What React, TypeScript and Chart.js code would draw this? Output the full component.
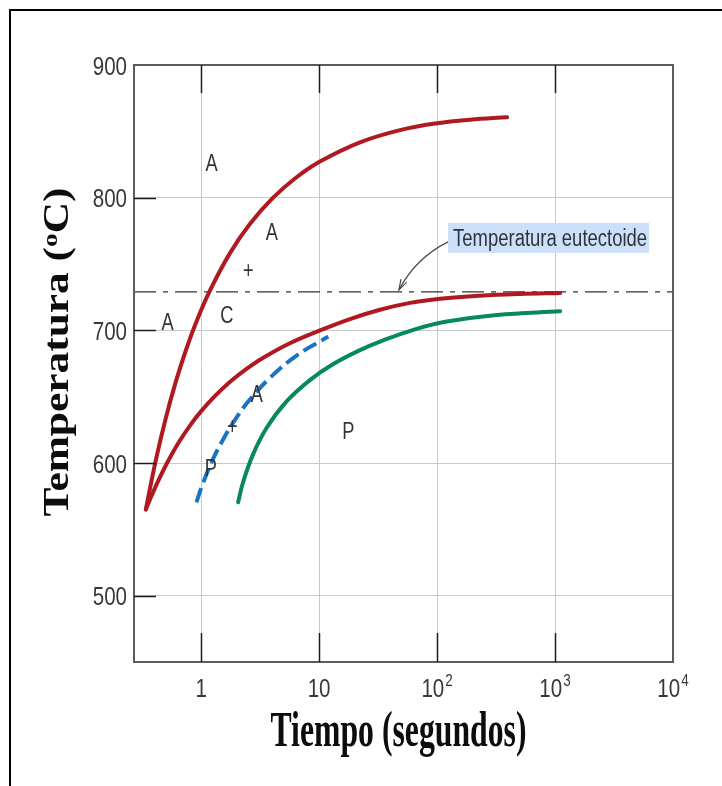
import React, { useEffect, useRef } from "react";
import { Chart, registerables } from "chart.js";

Chart.register(...registerables);

// Axis ticks
const timeTicks = [1, 10, 100, 1000, 10000];
const timeTickBase = ["1", "10", "10", "10", "10"];
const timeTickExp = ["", "", "2", "3", "4"];
const tempTicks = [500, 600, 700, 800, 900];
const tempTickLabels = ["500", "600", "700", "800", "900"];

// Start of transformation (upper red curve)
const startTime = [0.34, 0.413, 0.502, 0.61, 0.742, 0.902, 1.185, 1.752, 2.59, 4.058, 6.363, 10.17, 22.22, 48.55, 100, 190.5, 392.6];
const startTemp = [565, 602, 633.8, 661.1, 684.8, 705.4, 729.7, 758, 780.1, 799.8, 815, 827.2, 841.7, 850.9, 856.1, 858.8, 860.6];

// End of transformation (lower red curve)
const finishTime = [0.34, 0.413, 0.502, 0.634, 0.802, 0.994, 1.307, 1.752, 2.395, 3.339, 5.656, 10.17, 18.27, 32.84, 59, 106.1, 231.7, 506.1, 1106];
const finishTemp = [565, 582.6, 598.1, 614.3, 628, 638.7, 650.4, 661.1, 670.6, 679.2, 690.3, 699.9, 708.5, 715.5, 720.7, 723.8, 726.1, 727.4, 728.1];

// Dashed blue curve
const halfTime = [0.914, 1.008, 1.23, 1.53, 1.97, 2.59, 3.83, 6.45, 11.96];
const halfTemp = [570.4, 581.7, 600.8, 617.4, 633.5, 647.8, 664.1, 681, 695.3];

// Green curve
const greenTime = [2.06, 2.272, 2.762, 3.589, 5.303, 8.362, 13.19, 22.22, 32.84, 62.93, 120.9, 321.1, 1106];
const greenTemp = [570.4, 585.7, 606.7, 626.4, 646.4, 662.5, 674.6, 685.1, 691.5, 700.4, 706.6, 711.6, 714.4];

// Eutectoid line
const eutectoidTemp = 729;
const eutectoidSpan = [0.27, 10000];
const eutectoidLabel = "Temperatura eutectoide";
const eutectoidLabelTime = 124;
const eutectoidArrowTime = 47.5;

// Phase labels inside the plot
const regionText = ["A", "A", "+", "A", "C", "A", "+", "P", "P"];
const regionTime = [1.23, 3.98, 2.52, 0.52, 1.65, 2.97, 1.84, 1.21, 17.7];
const regionTemp = [827, 775, 746, 707, 712, 653, 629, 597, 625];

const xTitle = "Tiempo (segundos)";
const yTitleMain = "Temperatura (";
const yTitleSup = "o";
const yTitleEnd = "C)";

const SANS = '"Liberation Sans", Arial, sans-serif';
const SERIF = '"Liberation Serif", "Times New Roman", serif';
const NARROW_X = 0.79;

const pts = (xs: number[], ys: number[]) => xs.map((x, i) => ({ x, y: ys[i] }));

// text squeezed horizontally by sx, anchored at x by align
function squeezed(
  ctx: CanvasRenderingContext2D,
  text: string,
  x: number,
  y: number,
  font: string,
  sx: number,
  align: "left" | "center" | "right"
) {
  ctx.font = font;
  const w = ctx.measureText(text).width * sx;
  const left = align === "left" ? x : align === "center" ? x - w / 2 : x - w;
  ctx.save();
  ctx.translate(left, y);
  ctx.scale(sx, 1);
  ctx.textAlign = "left";
  ctx.textBaseline = "alphabetic";
  ctx.fillText(text, 0, 0);
  ctx.restore();
  return w;
}

function widthOf(ctx: CanvasRenderingContext2D, text: string, font: string, sx: number) {
  ctx.font = font;
  return ctx.measureText(text).width * sx;
}

const decor = {
  id: "decor",
  afterDatasetsDraw(chart: any) {
    const { ctx, chartArea: a, scales } = chart;
    const xs = scales.x;
    const ys = scales.y;
    ctx.save();

    // plot frame
    ctx.strokeStyle = "#5c5c5c";
    ctx.lineWidth = 2;
    ctx.strokeRect(a.left, a.top, a.right - a.left, a.bottom - a.top);

    // inner tick marks
    ctx.strokeStyle = "#1c1c1c";
    ctx.lineWidth = 1.5;
    ctx.beginPath();
    timeTicks.slice(0, -1).forEach((v) => {
      const px = Math.round(xs.getPixelForValue(v)) + 0.5;
      ctx.moveTo(px, a.top);
      ctx.lineTo(px, a.top + 28);
      ctx.moveTo(px, a.bottom);
      ctx.lineTo(px, a.bottom - 29);
    });
    tempTicks.slice(0, -1).forEach((v) => {
      const py = Math.round(ys.getPixelForValue(v)) + 0.5;
      ctx.moveTo(a.left, py);
      ctx.lineTo(a.left + 22, py);
    });
    ctx.stroke();

    // y tick labels
    ctx.fillStyle = "#383838";
    const tickFont = `26px ${SANS}`;
    tempTicks.forEach((v, i) => {
      squeezed(ctx, tempTickLabels[i], a.left - 7, ys.getPixelForValue(v) + 9.5, tickFont, NARROW_X, "right");
    });

    // x tick labels with exponents
    const expFont = `17px ${SANS}`;
    timeTicks.forEach((v, i) => {
      const px = xs.getPixelForValue(v);
      const wb = widthOf(ctx, timeTickBase[i], tickFont, NARROW_X);
      const we = timeTickExp[i] ? widthOf(ctx, timeTickExp[i], expFont, NARROW_X) + 1 : 0;
      const x0 = px - (wb + we) / 2;
      squeezed(ctx, timeTickBase[i], x0, a.bottom + 35, tickFont, NARROW_X, "left");
      if (timeTickExp[i]) {
        squeezed(ctx, timeTickExp[i], x0 + wb + 1, a.bottom + 24, expFont, NARROW_X, "left");
      }
    });

    // phase labels
    ctx.fillStyle = "#30343a";
    const regionFont = `24px ${SANS}`;
    regionText.forEach((t, i) => {
      squeezed(
        ctx,
        t,
        xs.getPixelForValue(regionTime[i]),
        ys.getPixelForValue(regionTemp[i]) + 9,
        regionFont,
        0.76,
        "center"
      );
    });

    // eutectoid annotation
    const ey = ys.getPixelForValue(eutectoidTemp);
    const lx = xs.getPixelForValue(eutectoidLabelTime);
    const labelFont = `23px ${SANS}`;
    const natural = widthOf(ctx, eutectoidLabel, labelFont, 1);
    const lsx = 194 / natural;
    ctx.fillStyle = "#cde0fa";
    ctx.fillRect(lx, ey - 69, 201, 30);
    ctx.fillStyle = "#30343a";
    squeezed(ctx, eutectoidLabel, lx + 5, ey - 45.5, labelFont, lsx, "left");

    const tx = xs.getPixelForValue(eutectoidArrowTime);
    const ty = ey - 2;
    const sx = lx;
    const sy = ey - 50;
    const cx = tx + 17;
    const cy = ey - 34;
    ctx.strokeStyle = "#4a4a4a";
    ctx.lineWidth = 1.2;
    ctx.beginPath();
    ctx.moveTo(sx, sy);
    ctx.quadraticCurveTo(cx, cy, tx, ty);
    ctx.stroke();
    const ang = Math.atan2(ty - cy, tx - cx);
    const hl = 11;
    ctx.beginPath();
    ctx.moveTo(tx - hl * Math.cos(ang - 0.3), ty - hl * Math.sin(ang - 0.3));
    ctx.lineTo(tx, ty);
    ctx.lineTo(tx - hl * Math.cos(ang + 0.3), ty - hl * Math.sin(ang + 0.3));
    ctx.stroke();

    // x axis title
    ctx.fillStyle = "#0d0d0d";
    ctx.font = `bold 40px ${SERIF}`;
    const xw = ctx.measureText(xTitle).width;
    ctx.save();
    ctx.translate((a.left + a.right) / 2 - 5, a.bottom + 84);
    ctx.scale(256 / xw, 1.27);
    ctx.textAlign = "center";
    ctx.textBaseline = "alphabetic";
    ctx.fillText(xTitle, 0, 0);
    ctx.restore();

    // y axis title (rotated)
    ctx.save();
    const big = `bold 35px ${SERIF}`;
    const small = `bold 22px ${SERIF}`;
    ctx.font = big;
    const w1 = ctx.measureText(yTitleMain).width;
    const w3 = ctx.measureText(yTitleEnd).width;
    ctx.font = small;
    const w2 = ctx.measureText(yTitleSup).width;
    const total = w1 + w2 + w3;
    ctx.translate(68, 352);
    ctx.rotate(-Math.PI / 2);
    ctx.scale(329 / total, 1);
    ctx.textAlign = "left";
    ctx.textBaseline = "alphabetic";
    let x = -total / 2;
    ctx.font = big;
    ctx.fillText(yTitleMain, x, 0);
    x += w1;
    ctx.font = small;
    ctx.fillText(yTitleSup, x, -11);
    x += w2;
    ctx.font = big;
    ctx.fillText(yTitleEnd, x, 0);
    ctx.restore();

    ctx.restore();
  },
};

export default function App() {
  const ref = useRef<HTMLCanvasElement | null>(null);

  useEffect(() => {
    if (!ref.current) return;
    const curve = (data: any, color: string, dash: number[] = []) => ({
      data,
      borderColor: color,
      borderWidth: 4,
      borderDash: dash,
      borderCapStyle: dash.length ? "butt" : "round",
      borderJoinStyle: "round",
      tension: 0.4,
      pointRadius: 0,
      fill: false,
    });
    const chart = new Chart(ref.current, {
      type: "line",
      data: {
        datasets: [
          curve(pts(startTime, startTemp), "#b0191f"),
          curve(pts(finishTime, finishTemp), "#b0191f"),
          curve(pts(halfTime, halfTemp), "#1a74c6", [15, 6]),
          curve(pts(greenTime, greenTemp), "#07895f"),
          {
            data: pts(eutectoidSpan, [eutectoidTemp, eutectoidTemp]),
            borderColor: "#333333",
            borderWidth: 1.3,
            borderDash: [22, 7, 5, 7],
            pointRadius: 0,
            tension: 0,
            fill: false,
          },
        ] as any,
      },
      options: {
        animation: false,
        responsive: false,
        devicePixelRatio: 1,
        events: [],
        layout: { padding: { left: 134, top: 65, right: 49, bottom: 124 } },
        plugins: { legend: { display: false }, tooltip: { enabled: false } },
        scales: {
          x: {
            type: "logarithmic",
            min: 0.27,
            max: 10000,
            afterBuildTicks: (s: any) => {
              s.ticks = timeTicks.map((v) => ({ value: v }));
            },
            ticks: { display: false },
            grid: { color: "#c9c9c9", lineWidth: 1, drawTicks: false },
            border: { display: false },
          },
          y: {
            type: "linear",
            min: 450,
            max: 900,
            afterBuildTicks: (s: any) => {
              s.ticks = tempTicks.map((v) => ({ value: v }));
            },
            ticks: { display: false },
            grid: { color: "#c9c9c9", lineWidth: 1, drawTicks: false },
            border: { display: false },
          },
        },
      } as any,
      plugins: [decor],
    });
    return () => chart.destroy();
  }, []);

  return (
    <div
      style={{
        position: "absolute",
        left: 0,
        top: 0,
        width: 722,
        height: 786,
        overflow: "hidden",
        background: "#fff",
      }}
    >
      <canvas ref={ref} width={722} height={786} style={{ position: "absolute", left: 0, top: 0, width: 722, height: 786 }} />
      <div
        style={{
          position: "absolute",
          left: 9,
          top: 9,
          width: 800,
          height: 800,
          borderLeft: "2px solid #000",
          borderTop: "2px solid #000",
          pointerEvents: "none",
        }}
      />
    </div>
  );
}
